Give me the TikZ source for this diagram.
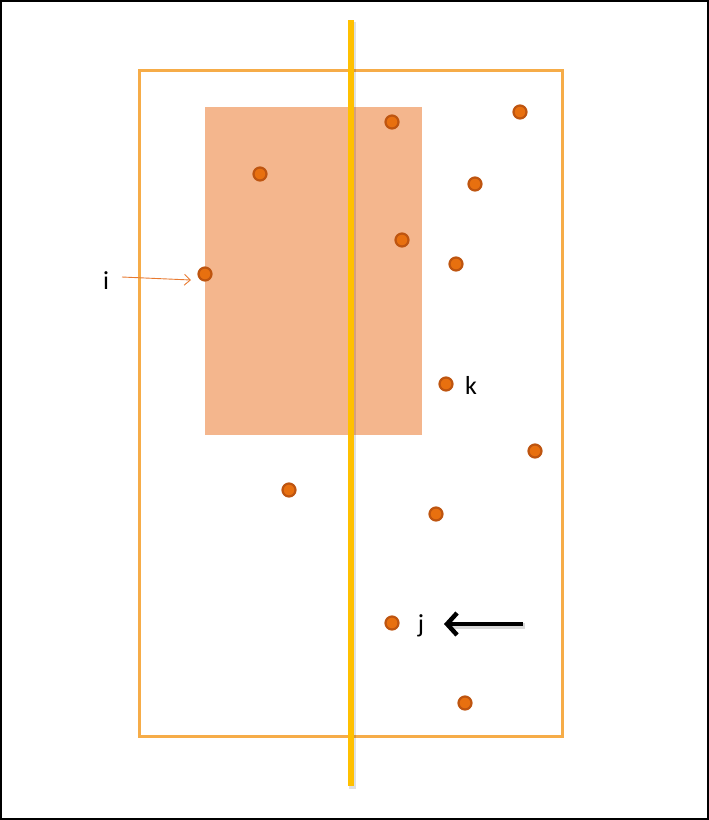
\documentclass[tikz,border=0pt]{standalone}
\usepackage{fontspec}
\setmainfont{Carlito}
\usetikzlibrary{arrows.meta}
\definecolor{frameorange}{HTML}{F6AC48}
\definecolor{boxfill}{HTML}{F4B68D}
\definecolor{axisyellow}{HTML}{FFC000}
\definecolor{dotfill}{HTML}{E8700F}
\definecolor{dotedge}{HTML}{BE5510}
\definecolor{thinarrow}{HTML}{E87A30}
\tikzset{
  dot/.style={circle, fill=dotfill, draw=dotedge, line width=2.2pt, minimum size=13pt, inner sep=0pt},
  lbl/.style={font=\fontsize{26}{30}\selectfont, inner sep=0pt, anchor=base},
  iarrow/.style={draw=thinarrow, line width=0.9pt, -{Straight Barb[length=6pt,width=11pt,line width=0.9pt]}},
  jarrow/.style={draw=black, line width=4.5pt, -{Straight Barb[length=10pt,width=22pt,line width=4.5pt]}},
}
\begin{document}
\begin{tikzpicture}[x=1pt,y=-1pt]
\useasboundingbox (0,0) rectangle (709,820);
% outer frame of the image
\draw[black, line width=2pt] (1,1) rectangle (708,819);
% shaded region
\fill[boxfill] (205,107) rectangle (422,434.5);
% orange outer rectangle
\draw[frameorange, line width=3pt] (139.5,70.5) rectangle (562,736);
% vertical yellow line with soft shadow
\draw[black, opacity=0.12, line width=7pt] (352.5,22) -- (352.5,789);
\draw[axisyellow, line width=6pt] (351,20) -- (351,786);
% dots
\node[dot] (d1) at (392,122) {};
\node[dot] (d2) at (520,112) {};
\node[dot] (d3) at (260,174) {};
\node[dot] (d4) at (475,184) {};
\node[dot] (d5) at (402,240) {};
\node[dot] (d6) at (456,264) {};
\node[dot] (d7) at (205,274) {};
\node[dot] (d8) at (446,384) {};
\node[dot] (d9) at (535,451) {};
\node[dot] (d10) at (289,490) {};
\node[dot] (d11) at (436,514) {};
\node[dot] (d12) at (392,623) {};
\node[dot] (d13) at (465,703) {};
% labels
\node[lbl] (li) at (106,289) {i};
\node[lbl] (lk) at (471,394) {k};
\node[lbl] (lj) at (421,632) {j};
% arrows
\coordinate (istart) at (122,277);
\coordinate (iend) at (191,280);
\draw[iarrow] (istart) -- (iend);
\coordinate (jtail) at (523,624);
\coordinate (jhead) at (444,624);
\draw[black, opacity=0.15, line width=6pt] (525,626) -- (452,626);
\draw[jarrow] (jtail) -- (jhead);
\end{tikzpicture}
\end{document}
